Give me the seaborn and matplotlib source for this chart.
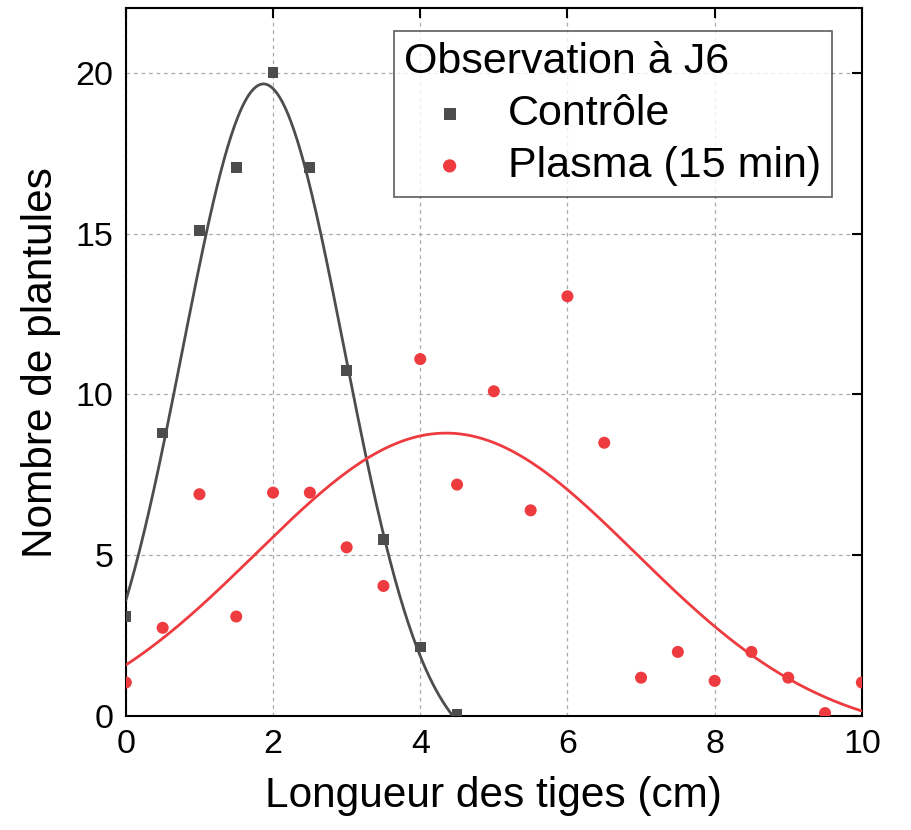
import numpy as np
import pandas as pd
import matplotlib
matplotlib.use("Agg")
import matplotlib.pyplot as plt
import seaborn as sns

# Stem length classes (cm)
longueur = [0, 0.5, 1, 1.5, 2, 2.5, 3, 3.5, 4, 4.5,
            5, 5.5, 6, 6.5, 7, 7.5, 8, 8.5, 9, 9.5, 10]

# Control seedlings (only up to 4.5 cm)
controle_x = longueur[:10]
controle_y = [3.1, 8.8, 15.1, 17.05, 20.0, 17.05, 10.75, 5.5, 2.15, 0.05]

# Plasma treated (15 min)
plasma_y = [1.05, 2.75, 6.9, 3.1, 6.95, 6.95, 5.25, 4.05, 11.1, 7.2,
            10.1, 6.4, 13.05, 8.5, 1.2, 2.0, 1.1, 2.0, 1.2, 0.1, 1.05]

# Gaussian fit parameters: y0, A, xc, sigma
fit_controle = dict(y0=-1.35, A=21.0, xc=1.87, s=1.10)
fit_plasma = dict(y0=-0.7, A=9.5, xc=4.35, s=2.58)

col_ctrl = "#4d4d4d"
col_plasma = "#ee3b40"


def gauss(x, y0, A, xc, s):
    return y0 + A * np.exp(-(x - xc) ** 2 / (2 * s ** 2))


sns.set_style("white")
plt.rcParams['font.family'] = ['Liberation Sans', 'DejaVu Sans']
plt.rcParams['text.color'] = 'black'
plt.rcParams['axes.labelcolor'] = 'black'
plt.rcParams['xtick.color'] = 'black'
plt.rcParams['ytick.color'] = 'black'

df_ctrl = pd.DataFrame({'x': controle_x, 'y': controle_y})
df_plasma = pd.DataFrame({'x': longueur, 'y': plasma_y})

xc_fit = np.linspace(0, 4.5, 300)
xp_fit = np.linspace(0, 10, 500)
df_fit_ctrl = pd.DataFrame({'x': xc_fit, 'y': gauss(xc_fit, **fit_controle)})
df_fit_plasma = pd.DataFrame({'x': xp_fit, 'y': gauss(xp_fit, **fit_plasma)})

fig = plt.figure(figsize=(9.12, 8.3), dpi=100)
ax = fig.add_axes([0.138, 0.137, 0.807, 0.853])

ax.grid(True, color="#aaaaaa", linestyle=(0, (3, 3)), linewidth=0.9)
ax.set_axisbelow(True)

sns.lineplot(data=df_fit_ctrl, x='x', y='y', color=col_ctrl, linewidth=2.0,
             ax=ax, legend=False, zorder=3)
sns.lineplot(data=df_fit_plasma, x='x', y='y', color=col_plasma, linewidth=2.0,
             ax=ax, legend=False, zorder=3)
sns.scatterplot(data=df_ctrl, x='x', y='y', marker='s', s=60, color=col_ctrl,
                edgecolor='none', ax=ax, label='Contrôle', zorder=4)
sns.scatterplot(data=df_plasma, x='x', y='y', marker='o', s=75, color=col_plasma,
                edgecolor='none', ax=ax, label='Plasma (15 min)', zorder=4)

ax.set_xlim(0, 10)
ax.set_ylim(0, 22)
ax.set_xticks([0, 2, 4, 6, 8, 10])
ax.set_yticks([0, 5, 10, 15, 20])
ax.tick_params(direction='in', length=7, width=1.5, labelsize=24.5,
               top=True, right=True, pad=9)
for sp in ax.spines.values():
    sp.set_linewidth(1.5)
    sp.set_color('black')

ax.set_xlabel('Longueur des tiges (cm)', fontsize=30.5, labelpad=12)
ax.set_ylabel('Nombre de plantules', fontsize=30.5, labelpad=10)

leg = ax.legend(title='Observation à J6', loc='upper right',
                bbox_to_anchor=(0.959, 0.9675), borderaxespad=0,
                fontsize=31, title_fontsize=31, frameon=True, fancybox=False,
                edgecolor='#333333', handlelength=2.1, handletextpad=0.3,
                borderpad=0.25, labelspacing=0.28, markerscale=1.1,
                alignment='left')
leg.get_frame().set_linewidth(1.2)

fig.savefig('out.png', dpi=100)
